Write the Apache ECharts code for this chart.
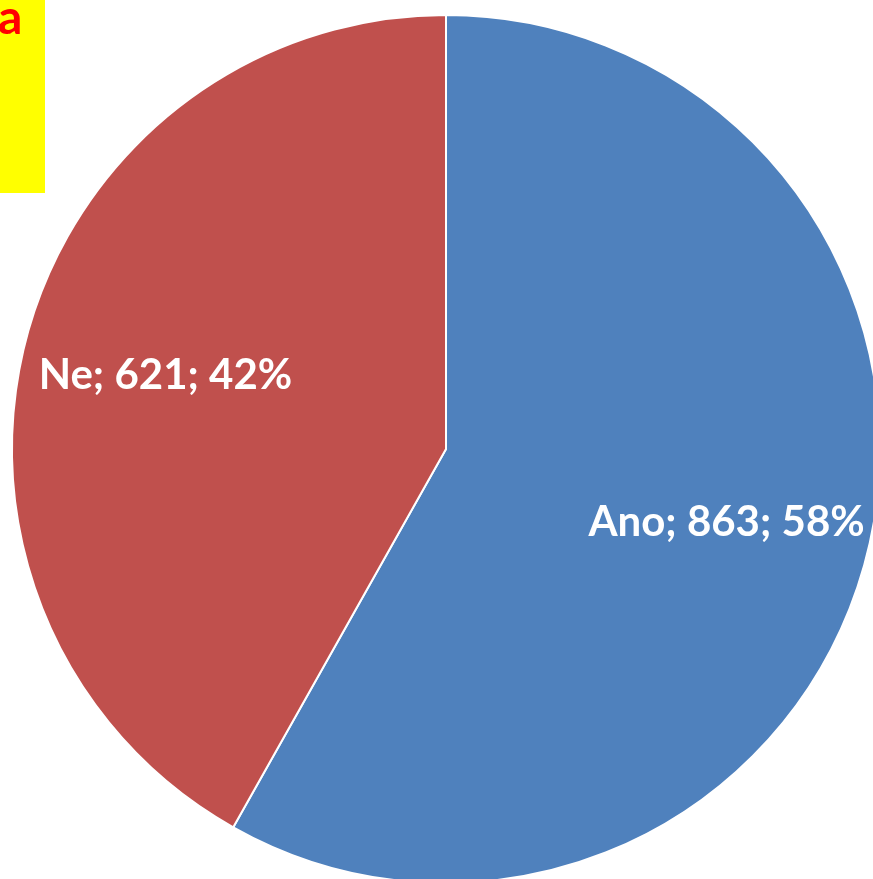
<!DOCTYPE html>
<html>
<head>
<meta charset="utf-8">
<script src="https://cdn.jsdelivr.net/npm/echarts@6/dist/echarts.min.js"></script>
<style>
  html, body { margin: 0; padding: 0; background: #fff; }
  #chart { width: 873px; height: 879px; }
</style>
</head>
<body>
<div id="chart"></div>
<script>
// data
const categories = ['Ano', 'Ne']
const values = [863, 621]
const colors = ['#4F81BD', '#C0504D']
const panelLabel = 'a'

const pieData = categories.map((name, i) => ({
  name: name,
  value: values[i],
  itemStyle: { color: colors[i] }
}))
const labelData = categories.map((name, i) => ({ name: name, value: values[i] }))

const chart = echarts.init(document.getElementById('chart'))

const option = {
  animation: false,
  backgroundColor: '#fff',
  graphic: [
    {
      type: 'rect',
      shape: { x: 0, y: 0, width: 45, height: 193 },
      style: { fill: '#FFFF00' }
    },
    {
      type: 'text',
      x: -2,
      y: -5,
      style: {
        text: panelLabel,
        fill: '#FF0000',
        font: 'bold 48px Lato'
      }
    }
  ],
  series: [
    {
      type: 'pie',
      center: [446, 449],
      radius: [0, 434],
      startAngle: 90,
      clockwise: true,
      percentPrecision: 0,
      data: pieData,
      itemStyle: { borderColor: '#fff', borderWidth: 2 },
      label: { show: false },
      labelLine: { show: false },
      silent: true
    },
    {
      // label-only ring so labels sit further out than the default half radius
      type: 'pie',
      center: [446, 449],
      radius: [140, 434],
      startAngle: 90,
      clockwise: true,
      percentPrecision: 0,
      data: labelData,
      itemStyle: { color: 'rgba(0,0,0,0)', borderWidth: 0 },
      label: {
        show: true,
        position: 'inside',
        formatter: '{b}; {c}; {d}%',
        color: '#fff',
        fontFamily: 'Lato',
        fontWeight: 'bold',
        fontSize: 42
      },
      labelLine: { show: false },
      silent: true
    }
  ]
}

chart.setOption(option)
</script>
</body>
</html>
